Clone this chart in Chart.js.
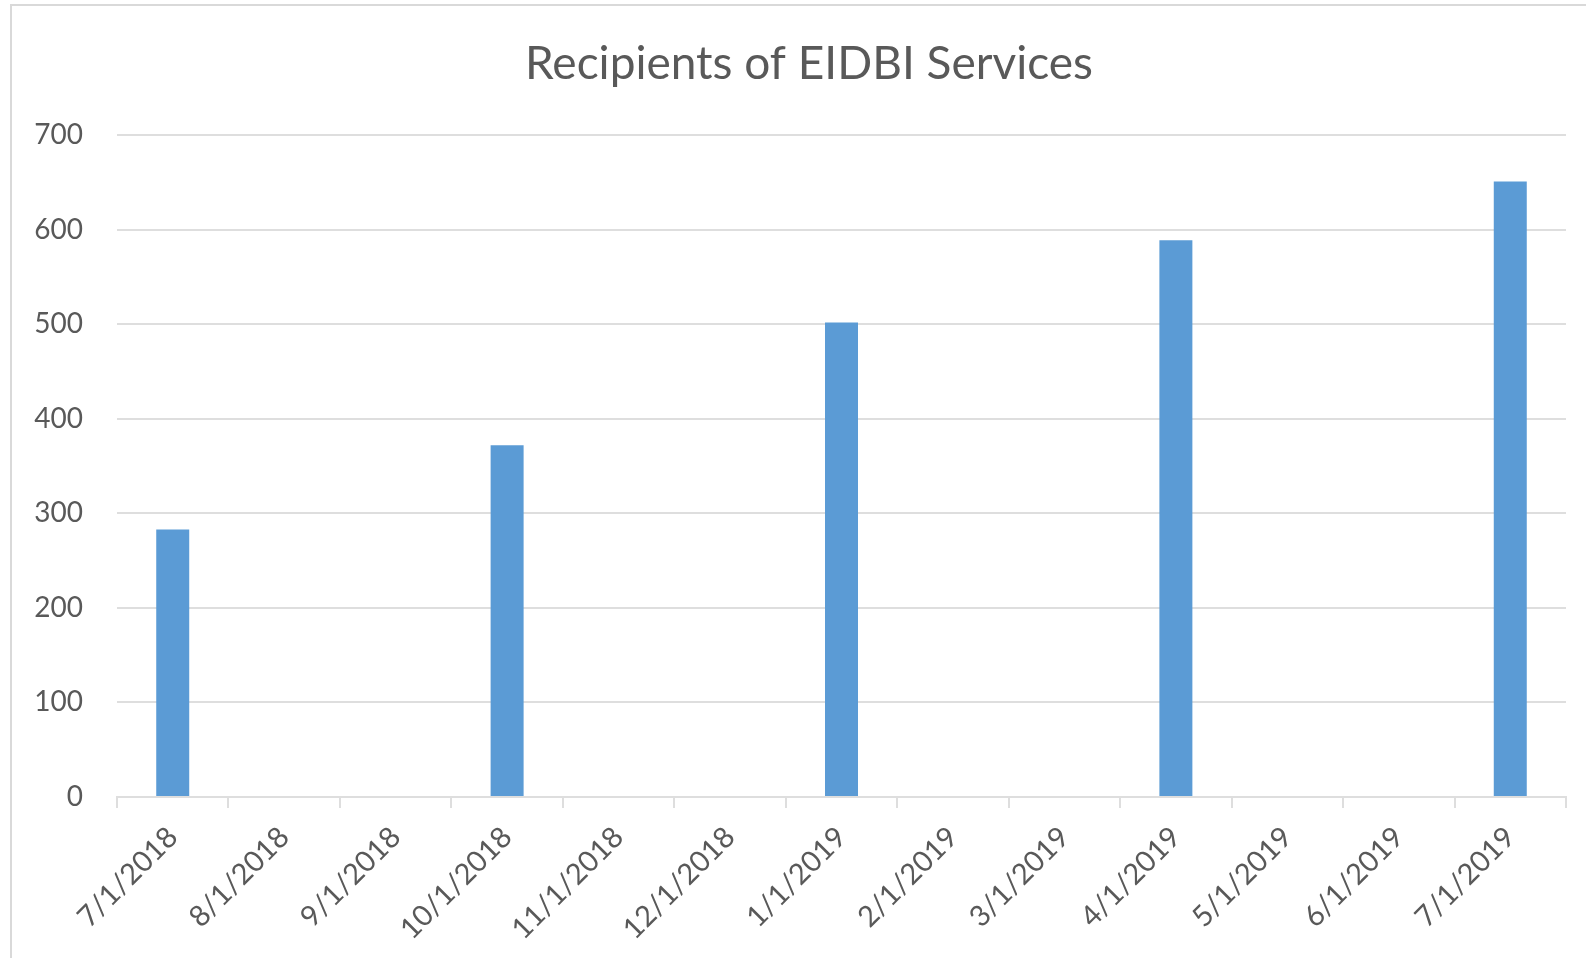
<!DOCTYPE html>
<html>
<head>
<meta charset="utf-8">
<script src="https://cdn.jsdelivr.net/npm/chart.js@4.4.1/dist/chart.umd.min.js"></script>
<style>
  html, body { margin: 0; padding: 0; background: #fff; }
  #wrap { position: relative; width: 1586px; height: 958px; overflow: hidden; background: #fff; }
  #frame { position: absolute; left: 10px; top: 4px; width: 1600px; height: 1000px; border: 2px solid #d9d9d9; box-sizing: border-box; }
  #c { position: absolute; left: 0; top: 0; }
</style>
</head>
<body>
<div id="wrap">
  <div id="frame"></div>
  <canvas id="c" width="1586" height="958"></canvas>
</div>
<script>
const titleText = 'Recipients of EIDBI Services';
const categories = ['7/1/2018','8/1/2018','9/1/2018','10/1/2018','11/1/2018','12/1/2018','1/1/2019','2/1/2019','3/1/2019','4/1/2019','5/1/2019','6/1/2019','7/1/2019'];
const recipients = [283, null, null, 372, null, null, 502, null, null, 589, null, null, 651];
const yTicks = [0, 100, 200, 300, 400, 500, 600, 700];

const textColor = '#595959';
const gridColor = '#dedede';
const fontFamily = 'Lato, "Open Sans", sans-serif';

// The original chart frame extends past the right edge of the image,
// so its title is centred over a wider box than the visible canvas.
const titleShift = {
  id: 'titleShift',
  afterLayout(chart) {
    const t = chart.titleBlock;
    if (t) { t.left = 52; t.width = t.right - t.left; }
  }
};

new Chart(document.getElementById('c'), {
  type: 'bar',
  data: {
    labels: categories,
    datasets: [{
      label: 'Recipients',
      data: recipients,
      backgroundColor: '#5B9BD5',
      borderWidth: 0,
      categoryPercentage: 1.0,
      barPercentage: 0.296
    }]
  },
  plugins: [titleShift],
  options: {
    responsive: false,
    animation: false,
    devicePixelRatio: 1,
    layout: { padding: { top: 37, right: 20, left: 0, bottom: 0 } },
    plugins: {
      legend: { display: false },
      tooltip: { enabled: false },
      title: {
        display: true,
        text: titleText,
        color: textColor,
        font: { family: fontFamily, size: 46, weight: 'normal' },
        padding: { top: 0, bottom: 43 }
      }
    },
    scales: {
      x: {
        grid: { display: true, drawOnChartArea: false, drawTicks: true, tickLength: 11, color: gridColor, lineWidth: 2, offset: true },
        border: { display: true, color: gridColor, width: 2 },
        ticks: {
          color: textColor,
          font: { family: fontFamily, size: 29 },
          maxRotation: 45, minRotation: 45,
          padding: 12,
          autoSkip: false
        },
        afterFit: (scale) => { scale.height = 161; }
      },
      y: {
        min: 0, max: 700,
        afterBuildTicks: (scale) => { scale.ticks = yTicks.map(v => ({ value: v })); },
        grid: { color: gridColor, lineWidth: 2, drawTicks: false },
        border: { display: false },
        ticks: {
          color: textColor,
          font: { family: fontFamily, size: 28 },
          padding: 34
        },
        afterFit: (scale) => { scale.width = 117; }
      }
    }
  }
});
</script>
</body>
</html>
